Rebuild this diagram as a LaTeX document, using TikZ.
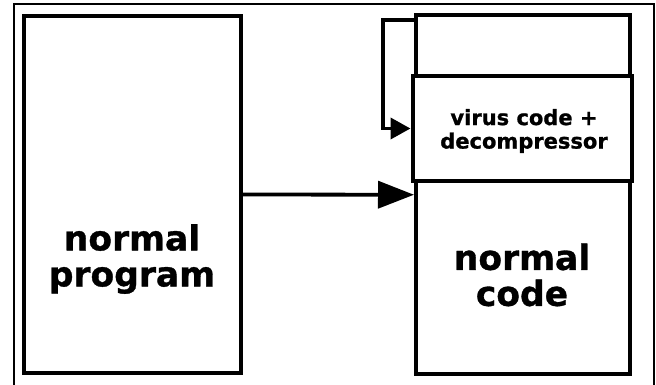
\documentclass[tikz,border=0pt]{standalone}
\usepackage{fontspec}
\setmainfont[BoldFeatures={FakeBold=1}]{DejaVu Sans}
\usetikzlibrary{arrows.meta,calc}
\begin{document}
\begin{tikzpicture}[x=1pt,y=-1pt,
  box/.style={draw=black,line width=4pt,fill=white,rectangle,inner sep=0pt},
  bigtext/.style={align=center,inner sep=0pt,font=\bfseries\fontsize{34.5}{36}\selectfont},
  smalltext/.style={align=center,inner sep=0pt,font=\bfseries\fontsize{21}{23.5}\selectfont},
  conn/.style={draw=black,line width=3.8pt},
  frameline/.style={draw=black,line width=2pt}]
\useasboundingbox (0,0) rectangle (656,385);
% outer frame
\draw[frameline] (13.5,386) -- (13.5,4.5) -- (654,4.5) -- (654,386);
% boxes
\node[box,minimum width=217pt,minimum height=356pt] (left) at (132.5,194.5) {};
\node[box,minimum width=213.5pt,minimum height=358.5pt] (right) at (522.75,194.75) {};
\node[box,minimum width=219.5pt,minimum height=104pt] (virus) at (522.25,128.5) {};
% texts
\node[bigtext] (lefttext) at (132,259) {normal\\program};
\node[bigtext] (righttext) at (522,275) {normal\\code};
\node[smalltext] (virustext) at (524,131) {virus code +\\decompressor};
% connectors
\draw[conn,-{Triangle[length=36pt,width=27pt]}] (left.east) -- (right.west);
\coordinate (loopstart) at ($(right.north west)+(0,6.5)$);
\coordinate (loopx) at (383,22);
\draw[conn,-{Triangle[length=20pt,width=21pt]}] (loopstart) -- (loopstart -| loopx) |- (virus.west);
\end{tikzpicture}
\end{document}
